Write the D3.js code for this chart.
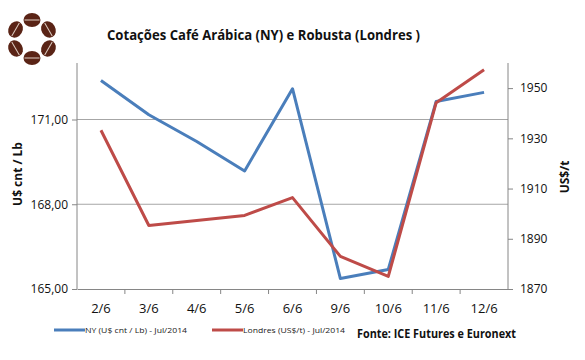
<!DOCTYPE html>
<html>
<head>
<meta charset="utf-8">
<script src="https://cdn.jsdelivr.net/npm/d3@7/dist/d3.min.js"></script>
<style>
  body { margin: 0; background: #fff; }
  svg { display: block; font-family: "Open Sans", "DejaVu Sans", sans-serif; }
</style>
</head>
<body>
<div id="chart"></div>
<script>
// Chart size
var svgWidth = 585;
var svgHeight = 360;

// Data
var dias = ["2/6", "3/6", "4/6", "5/6", "6/6", "9/6", "10/6", "11/6", "12/6"];
var nyValues = [172.38, 171.17, 170.22, 169.18, 172.09, 165.37, 165.69, 171.64, 171.96];
var londresValues = [1933.2, 1895.3, 1897.3, 1899.3, 1906.4, 1883.0, 1875.0, 1944.2, 1957.3];
var leftTicks = [165, 168, 171];
var rightTicks = [1870, 1890, 1910, 1930, 1950];

// Plot area
var margin = { top: 63, right: 77, bottom: 71, left: 77 };
var width = svgWidth - margin.left - margin.right;
var height = svgHeight - margin.top - margin.bottom;

var svg = d3.select("#chart")
  .append("svg")
  .attr("width", svgWidth)
  .attr("height", svgHeight);

// Logo: ring of coffee beans
var logo = svg.append("g").attr("transform", "translate(32,39)");
d3.range(6).forEach(function(i) {
  var bean = logo.append("g").attr("transform", "rotate(" + (i * 60) + ") translate(0,-19)");
  bean.append("ellipse").attr("rx", 8.5).attr("ry", 7)
    .attr("fill", "#5a2416");
  bean.append("line").attr("x1", -7.5).attr("x2", 7.5).attr("y1", 0).attr("y2", 0)
    .attr("stroke", "#e0cfc4").attr("stroke-width", 1);
});

// Title
svg.append("text")
  .attr("x", 107)
  .attr("y", 40)
  .attr("font-size", "15px")
  .attr("font-weight", "bold")
  .attr("fill", "#111")
  .attr("textLength", 313)
  .attr("lengthAdjust", "spacingAndGlyphs")
  .text("Cotações Café Arábica (NY) e Robusta (Londres )");

var chartGroup = svg.append("g")
  .attr("transform", `translate(${margin.left}, ${margin.top})`);

// Scales
var xBand = d3.scaleBand().domain(dias).range([0, width]);
var yLeft = d3.scaleLinear().domain([165, 173]).range([height, 0]);
var yRight = d3.scaleLinear().domain([1870, 1960]).range([height, 0]);

// Gridlines
chartGroup.selectAll(".grid")
  .data(leftTicks.slice(1))
  .enter()
  .append("line")
  .attr("x1", 0)
  .attr("x2", width)
  .attr("y1", d => yLeft(d))
  .attr("y2", d => yLeft(d))
  .attr("stroke", "#a6a6a6")
  .attr("stroke-width", 1);

// Axes
var leftAxis = d3.axisLeft(yLeft)
  .tickValues(leftTicks)
  .tickSize(5)
  .tickPadding(4)
  .tickFormat(d => d3.format(".2f")(d).replace(".", ","));
var rightAxis = d3.axisRight(yRight)
  .tickValues(rightTicks)
  .tickSize(5)
  .tickPadding(7)
  .tickFormat(d3.format("d"));
var bottomAxis = d3.axisBottom(xBand).tickSize(0).tickPadding(15);

function styleAxis(g) {
  g.select(".domain").attr("stroke", "#868686");
  g.selectAll(".tick line").attr("stroke", "#868686");
  g.selectAll(".tick text").attr("fill", "#111").attr("font-size", "12px");
  g.attr("font-family", null);
}

chartGroup.append("g").call(leftAxis).call(styleAxis)
  .call(g => g.select(".domain").attr("d", `M0,0V${height}`));

chartGroup.append("g")
  .attr("transform", `translate(${width}, 0)`)
  .call(rightAxis).call(styleAxis)
  .call(g => g.select(".domain").attr("d", `M0,0V${height}`));

var xAxisG = chartGroup.append("g")
  .attr("transform", `translate(0, ${height})`)
  .call(bottomAxis).call(styleAxis);
xAxisG.selectAll(".tick text").attr("font-size", "13px");

// Category boundary ticks on the x axis
chartGroup.selectAll(".xtick")
  .data(dias.slice(1))
  .enter()
  .append("line")
  .attr("x1", d => xBand(d))
  .attr("x2", d => xBand(d))
  .attr("y1", height)
  .attr("y2", height + 5)
  .attr("stroke", "#868686");

// Lines
var cx = d => xBand(d) + xBand.bandwidth() / 2;
var nyLine = d3.line()
  .x((d, i) => cx(dias[i]))
  .y(d => yLeft(d));
var londresLine = d3.line()
  .x((d, i) => cx(dias[i]))
  .y(d => yRight(d));

chartGroup.append("path")
  .datum(nyValues)
  .attr("d", nyLine)
  .attr("fill", "none")
  .attr("stroke", "#4a7ebb")
  .attr("stroke-width", 3)
  .attr("stroke-linejoin", "round");

chartGroup.append("path")
  .datum(londresValues)
  .attr("d", londresLine)
  .attr("fill", "none")
  .attr("stroke", "#be4b48")
  .attr("stroke-width", 3)
  .attr("stroke-linejoin", "round");

// Axis titles
svg.append("text")
  .attr("transform", "translate(22,174) rotate(-90)")
  .attr("text-anchor", "middle")
  .attr("font-size", "12px")
  .attr("font-weight", "bold")
  .attr("fill", "#111")
  .text("U$ cnt / Lb");

svg.append("text")
  .attr("transform", "translate(569,177) rotate(-90)")
  .attr("text-anchor", "middle")
  .attr("font-size", "12px")
  .attr("font-weight", "bold")
  .attr("fill", "#111")
  .text("US$/t");

// Legend
var legendItems = [
  { name: "NY (U$ cnt / Lb) - Jul/2014", color: "#4a7ebb", x: 54 },
  { name: "Londres (US$/t) - Jul/2014", color: "#be4b48", x: 212 }
];
var legend = svg.selectAll(".legend")
  .data(legendItems)
  .enter()
  .append("g")
  .attr("transform", d => `translate(${d.x}, 330)`);
legend.append("line")
  .attr("x1", 0).attr("x2", 31)
  .attr("stroke", d => d.color)
  .attr("stroke-width", 3);
legend.append("text")
  .attr("x", 31)
  .attr("y", 3)
  .attr("font-size", "8px")
  .attr("fill", "#222")
  .attr("textLength", 102)
  .attr("lengthAdjust", "spacingAndGlyphs")
  .text(d => d.name);

// Source
svg.append("text")
  .attr("x", 357)
  .attr("y", 338)
  .attr("font-size", "13px")
  .attr("font-weight", "bold")
  .attr("fill", "#111")
  .attr("textLength", 159)
  .attr("lengthAdjust", "spacingAndGlyphs")
  .text("Fonte: ICE Futures e Euronext");
</script>
</body>
</html>
